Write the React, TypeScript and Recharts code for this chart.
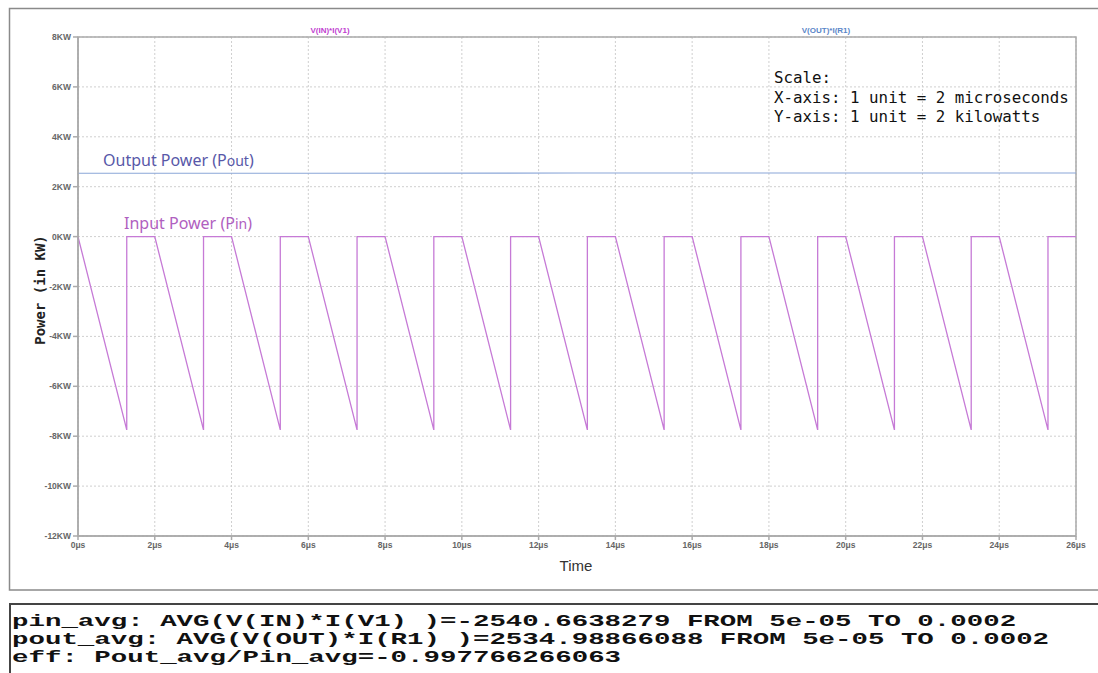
import React from "react";
import { LineChart, Line, XAxis, YAxis, CartesianGrid, ReferenceArea } from "recharts";

// Time in microseconds for input power waveform
const timeUs = [
  0, 1.27, 1.27, 2, 3.27, 3.27, 4, 5.27, 5.27, 6, 7.27, 7.27, 8, 9.27, 9.27,
  10, 11.27, 11.27, 12, 13.27, 13.27, 14, 15.27, 15.27, 16, 17.27, 17.27,
  18, 19.27, 19.27, 20, 21.27, 21.27, 22, 23.27, 23.27, 24, 25.27, 25.27, 26,
];
// Input power in KW
const pinKW = [
  0, -7.75, 0, 0, -7.75, 0, 0, -7.75, 0, 0, -7.75, 0, 0, -7.75, 0,
  0, -7.75, 0, 0, -7.75, 0, 0, -7.75, 0, 0, -7.75, 0,
  0, -7.75, 0, 0, -7.75, 0, 0, -7.75, 0, 0, -7.75, 0, 0,
];
// Output power
const poutTimeUs = [0, 6, 13, 20, 26];
const poutKW = [2.54, 2.54, 2.55, 2.55, 2.55];

const yTicks = [-12, -10, -8, -6, -4, -2, 0, 2, 4, 6, 8];
const xTicks = [0, 2, 4, 6, 8, 10, 12, 14, 16, 18, 20, 22, 24, 26];

const scaleLines = ["Scale:", "X-axis: 1 unit = 2 microseconds", "Y-axis: 1 unit = 2 kilowatts"];
const measLines = [
  "pin_avg: AVG(V(IN)*I(V1) )=-2540.6638279 FROM 5e-05 TO 0.0002",
  "pout_avg: AVG(V(OUT)*I(R1) )=2534.98866088 FROM 5e-05 TO 0.0002",
  "eff: Pout_avg/Pin_avg=-0.997766266063",
];

const pinData = timeUs.map((t, i) => ({ t, v: pinKW[i] }));
const poutData = poutTimeUs.map((t, i) => ({ t, v: poutKW[i] }));

const tickStyle = { fontSize: 8.5, fontWeight: 700, fill: "#666", fontFamily: "Liberation Sans, Arial, sans-serif" };

export default function App() {
  return (
    <div style={{ position: "absolute", left: 0, top: 0, width: 1098, height: 673, background: "#fff", overflow: "hidden" }}>
      <div style={{ position: "absolute", left: 0, top: 0 }}>
        <LineChart width={1098} height={600} margin={{ top: 37, right: 22, bottom: 34, left: 18 }}>
          <CartesianGrid stroke="#cfcfcf" strokeDasharray="2 2" />
          <XAxis
            dataKey="t"
            type="number"
            domain={[0, 26]}
            ticks={xTicks}
            allowDuplicatedCategory={false}
            tickFormatter={(v: number) => `${v}μs`}
            tick={tickStyle}
            tickSize={4}
            height={30}
            stroke="#aaa"
            strokeWidth={1.5}
          />
          <YAxis
            type="number"
            domain={[-12, 8]}
            ticks={yTicks}
            tickFormatter={(v: number) => `${v}KW`}
            tick={tickStyle}
            tickSize={5}
            width={60}
            stroke="#aaa"
            strokeWidth={1.5}
          />
          <ReferenceArea x1={0} x2={26} y1={-12} y2={8} fill="none" stroke="#aaa" strokeWidth={1.5} />
          <Line data={poutData} dataKey="v" type="linear" stroke="#8aa6d8" strokeWidth={1.2} dot={false} isAnimationActive={false} />
          <Line data={pinData} dataKey="v" type="linear" stroke="#c67ad6" strokeWidth={1.3} dot={false} isAnimationActive={false} />
        </LineChart>
      </div>
      <svg width={1098} height={673} style={{ position: "absolute", left: 0, top: 0, pointerEvents: "none" }}>
        <rect x={9.5} y={8.5} width={1100} height={581.5} fill="none" stroke="#8a8a8a" strokeWidth={1.5} />
        <text x={330} y={33} textAnchor="middle" fontSize={8} fontWeight={700} fill="#c040d0" fontFamily="Liberation Sans, Arial, sans-serif">V(IN)*I(V1)</text>
        <text x={826} y={33} textAnchor="middle" fontSize={8} fontWeight={700} fill="#5a86c8" fontFamily="Liberation Sans, Arial, sans-serif">V(OUT)*I(R1)</text>
        {scaleLines.map((s, i) => (
          <text key={i} x={774} y={83 + i * 19.5} fontSize={15.8} fill="#111" fontFamily="DejaVu Sans Mono, monospace" xmlSpace="preserve">{s}</text>
        ))}
        <text x={103} y={166} fontSize={16} fill="#5858a8" fontFamily="Noto Sans, sans-serif">
          Output Power (P<tspan fontSize={14}>out</tspan>)
        </text>
        <text x={124} y={229} fontSize={16} fill="#b060c0" fontFamily="Noto Sans, sans-serif">
          Input Power (P<tspan fontSize={14}>in</tspan>)
        </text>
        <text x={45} y={290} transform="rotate(-90 45 290)" textAnchor="middle" fontSize={14} fontWeight={700} fill="#222" fontFamily="DejaVu Sans Mono, monospace">Power (in KW)</text>
        <text x={576} y={571} textAnchor="middle" fontSize={15} fill="#333" fontFamily="Liberation Sans, Arial, sans-serif">Time</text>
        <rect x={10} y={604} width={1100} height={80} fill="none" stroke="#444" strokeWidth={2} />
        {measLines.map((s, i) => (
          <text key={i} x={0} y={0} transform={`translate(12 ${626 + i * 18}) scale(1.715 1)`} fontSize={16} fontWeight={700} fill="#111" fontFamily="Liberation Mono, Courier New, monospace" xmlSpace="preserve">{s}</text>
        ))}
      </svg>
    </div>
  );
}
